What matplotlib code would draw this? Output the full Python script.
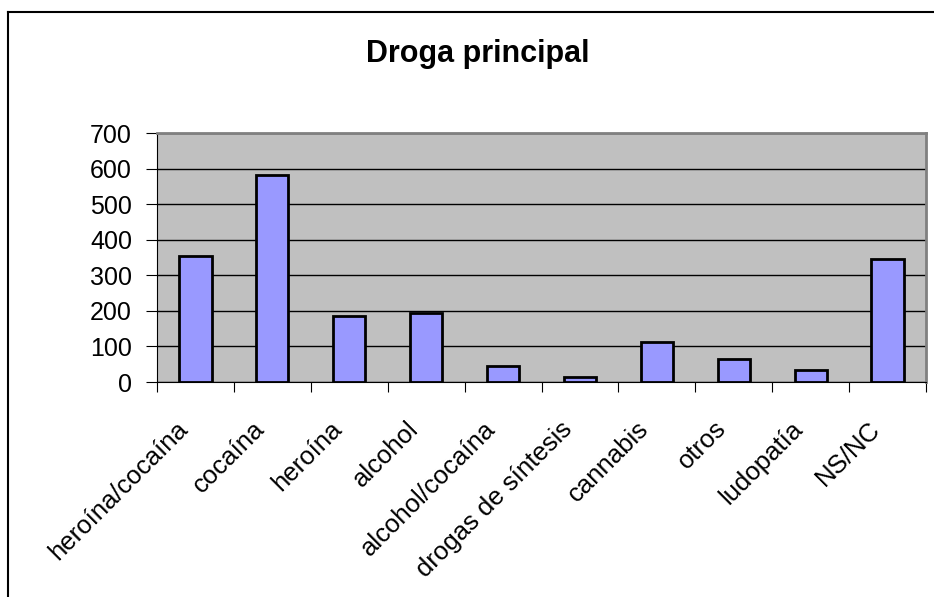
import matplotlib
matplotlib.use("Agg")
import matplotlib.pyplot as plt
from matplotlib.lines import Line2D

categorias = ["heroína/cocaína", "cocaína", "heroína", "alcohol", "alcohol/cocaína",
              "drogas de síntesis", "cannabis", "otros", "ludopatía", "NS/NC"]
valores = [354, 582, 186, 195, 46, 14, 112, 65, 35, 345]
yticks = [0, 100, 200, 300, 400, 500, 600, 700]

plt.rcParams["font.family"] = ["Liberation Sans", "DejaVu Sans"]

W, H = 934, 597
fig = plt.figure(figsize=(W / 100, H / 100), dpi=100)
# marco del gráfico (sólo se ven los bordes izquierdo y superior)
fig.lines.append(Line2D([8 / W, 8 / W], [0, 1 - 12 / H], transform=fig.transFigure,
                        color="black", linewidth=1.5))
fig.lines.append(Line2D([8 / W, 1], [1 - 12 / H, 1 - 12 / H], transform=fig.transFigure,
                        color="black", linewidth=1.5))

ax = fig.add_axes([157 / W, 1 - 382 / H, 769 / W, 249 / H])
ax.set_facecolor("#C0C0C0")

x = range(len(categorias))
ax.bar(x, valores, width=0.42, color="#9999FF", edgecolor="black", linewidth=2, zorder=3)

ax.set_xlim(-0.5, len(categorias) - 0.5)
ax.set_ylim(0, 700)
ax.set_yticks(yticks)
ax.yaxis.grid(True, color="black", linewidth=1)
ax.set_axisbelow(True)

# ticks del eje x entre categorías
ax.set_xticks([i - 0.5 for i in range(len(categorias) + 1)])
ax.set_xticklabels([])
ax.set_xticks([i - 0.15 for i in x], minor=True)
ax.set_xticklabels(categorias, minor=True, rotation=45, ha="right", va="center",
                   rotation_mode="anchor", fontsize=18.5)
ax.tick_params(axis="x", which="minor", length=0, pad=31)
ax.tick_params(axis="x", which="major", length=7, color="black", direction="out")
ax.tick_params(axis="y", length=8, direction="out", labelsize=18, pad=10)

for s in ["top", "right"]:
    ax.spines[s].set_color("#808080")
    ax.spines[s].set_linewidth(2)
ax.spines["left"].set_color("black")
ax.spines["bottom"].set_color("black")

fig.text(478 / W, 1 - 62 / H, "Droga principal", ha="center", va="baseline",
         fontsize=22, fontweight="bold")

fig.savefig("out.png", dpi=100)
